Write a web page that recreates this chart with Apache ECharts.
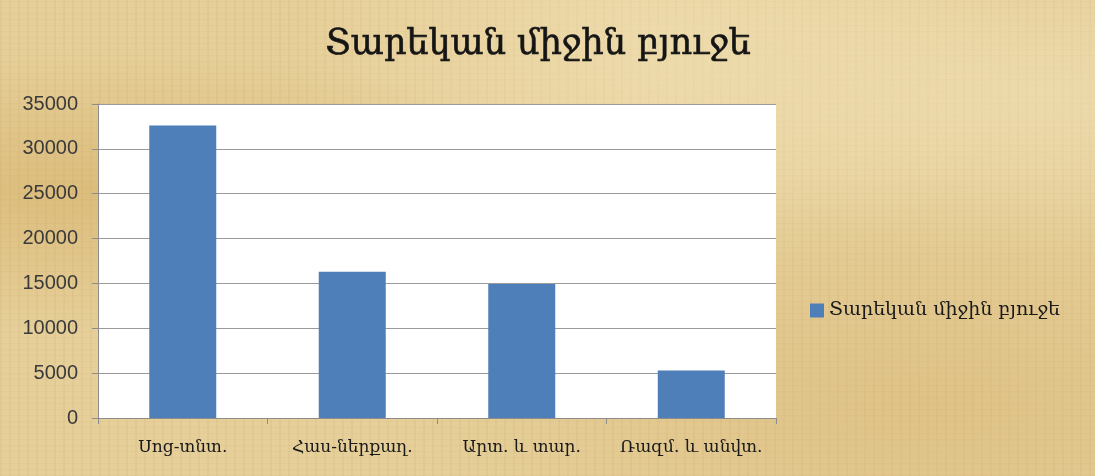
<!DOCTYPE html>
<html>
<head>
<meta charset="utf-8">
<script src="https://cdn.jsdelivr.net/npm/echarts@6/dist/echarts.min.js"></script>
<style>
  html, body { margin: 0; padding: 0; }
  body {
    width: 1095px; height: 476px; overflow: hidden;
    background-color: #e6cf99;
    background-image:
      radial-gradient(ellipse at 8% 40%, rgba(200,155,70,0.35), rgba(0,0,0,0) 35%),
      radial-gradient(ellipse at 85% 85%, rgba(205,165,90,0.3), rgba(0,0,0,0) 40%),
      radial-gradient(ellipse at 60% 10%, rgba(245,230,190,0.5), rgba(0,0,0,0) 40%),
      radial-gradient(ellipse at 95% 20%, rgba(245,232,195,0.45), rgba(0,0,0,0) 30%),
      repeating-linear-gradient(90deg, rgba(150,110,40,0.06) 0 2px, rgba(0,0,0,0) 2px 9px),
      repeating-linear-gradient(0deg, rgba(150,110,40,0.04) 0 1px, rgba(0,0,0,0) 1px 6px);
  }
  #chart { width: 1095px; height: 476px; }
</style>
</head>
<body>
<div id="chart"></div>
<script>
  // տվյալներ
  var chartTitle = 'Տարեկան միջին բյուջե';
  var categories = ['Սոց-տնտ.', 'Հաս-ներքաղ.', 'Արտ. և տար.', 'Ռազմ. և անվտ.'];
  var seriesName = 'Տարեկան միջին բյուջե';
  var values = [32600, 16300, 14950, 5300];

  var myChart = echarts.init(document.getElementById('chart'));

  myChart.setOption({
    backgroundColor: 'transparent',
    animation: false,
    title: {
      text: chartTitle,
      left: 533,
      textAlign: 'center',
      top: 22,
      textStyle: {
        fontFamily: 'DejaVu Serif',
        fontSize: 35,
        fontWeight: 'normal',
        color: '#151515',
        textBorderColor: '#151515',
        textBorderWidth: 0.6
      }
    },
    legend: {
      data: [seriesName],
      orient: 'vertical',
      left: 805,
      top: 296,
      itemWidth: 14,
      itemHeight: 14,
      itemGap: 4,
      icon: 'rect',
      textStyle: {
        fontFamily: 'DejaVu Serif',
        fontSize: 19,
        color: '#1a1a1a'
      }
    },
    grid: {
      left: 98,
      right: 319,
      top: 104,
      bottom: 58,
      containLabel: false,
      show: true,
      backgroundColor: '#ffffff',
      borderWidth: 0
    },
    xAxis: {
      type: 'category',
      data: categories,
      axisLine: { lineStyle: { color: '#8c8c8c', width: 1 } },
      axisTick: { show: true, length: 6, lineStyle: { color: '#8c8c8c' } },
      axisLabel: {
        margin: 21,
        fontFamily: 'DejaVu Serif',
        fontSize: 17,
        color: '#1a1a1a',
        interval: 0
      }
    },
    yAxis: {
      type: 'value',
      min: 0,
      max: 35000,
      interval: 5000,
      axisLine: { show: true, lineStyle: { color: '#8c8c8c', width: 1 } },
      axisTick: { show: true, length: 6, lineStyle: { color: '#8c8c8c' } },
      splitLine: { lineStyle: { color: '#9a9a9a', width: 1 } },
      axisLabel: {
        margin: 20,
        fontFamily: 'Liberation Sans',
        fontSize: 20,
        color: '#3a3a3a',
        formatter: function (v) { return String(v); }
      }
    },
    series: [{
      name: seriesName,
      type: 'bar',
      data: values,
      barWidth: 67,
      itemStyle: { color: '#4f7fb8' }
    }]
  });
</script>
</body>
</html>
